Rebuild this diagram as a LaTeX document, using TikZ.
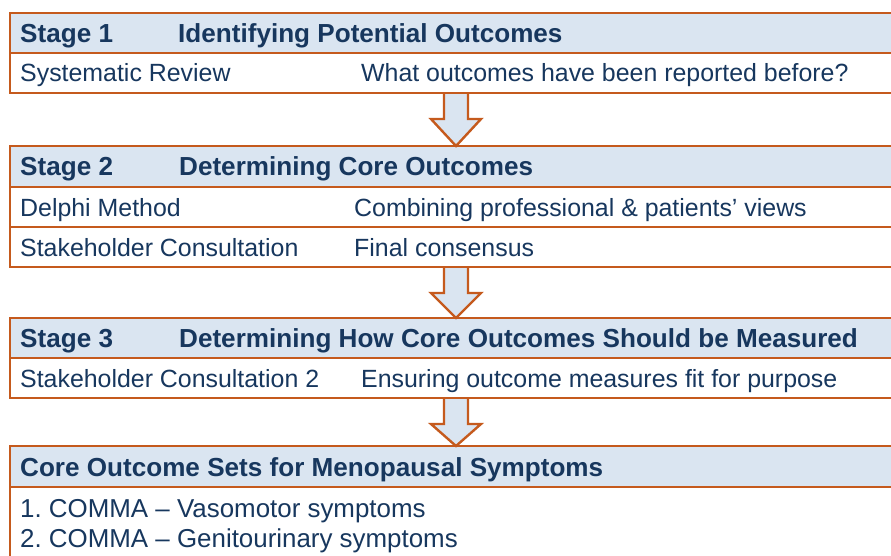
\documentclass[tikz,border=0pt]{standalone}
\usepackage{fontspec}
\setmainfont{Liberation Sans}
\usetikzlibrary{calc}
\definecolor{bord}{HTML}{C55A1D}
\definecolor{headfill}{HTML}{DAE5F1}
\definecolor{txt}{HTML}{17375E}
\frenchspacing
\begin{document}
\begin{tikzpicture}[x=1pt,y=1pt,
  cell/.style={draw=bord,line width=2.8pt,anchor=north west,minimum width=900pt,inner sep=0pt,outer sep=0pt},
  headcell/.style={cell,fill=headfill},
  rowcell/.style={cell,fill=white},
  lbl/.style={anchor=base west,inner sep=0pt,text=txt,font=\fontsize{24.9}{29}\selectfont},
  listlbl/.style={lbl,font=\fontsize{25.9}{30}\selectfont},
  hlbl/.style={lbl,font=\fontsize{26.1}{30}\selectfont\bfseries},
  blockarrow/.style={draw=bord,line width=2.4pt,fill=headfill,line join=miter}
]
\useasboundingbox (0,0) rectangle (891,-556);
\clip (0,0) rectangle (891,-556);
\fill[white] (0,0) rectangle (891,-556);
\coordinate (ax) at (456,0);

% box 1
\node[headcell,minimum height=40pt] (h1) at (10,-13) {};
\node[rowcell,minimum height=40pt] (r1) at (10,-53) {};
% box 2
\node[headcell,minimum height=41pt] (h2) at (10,-146) {};
\node[rowcell,minimum height=40pt] (r2a) at (10,-187) {};
\node[rowcell,minimum height=40pt] (r2b) at (10,-227) {};
% box 3
\node[headcell,minimum height=40pt] (h3) at (10,-318) {};
\node[rowcell,minimum height=40pt] (r3) at (10,-358) {};
% box 4
\node[headcell,minimum height=41pt] (h4) at (10,-446) {};
\node[rowcell,minimum height=120pt] (r4) at (10,-487) {};

% arrows
\foreach \s/\e/\n in {r1/h2/1, r2b/h3/2, r3/h4/3}{
  \coordinate (as\n) at (\s.south -| ax);
  \coordinate (ae\n) at (\e.north -| ax);
  \draw[blockarrow] ($(as\n)+(-12,0)$) -- ($(as\n)+(-12,-26)$) -- ($(as\n)+(-25,-26)$)
     -- (ae\n) -- ($(as\n)+(25,-26)$) -- ($(as\n)+(12,-26)$) -- ($(as\n)+(12,0)$);
}
% redraw borders over arrow ends
\draw[bord,line width=2.8pt] (r1.south west) -- (r1.south east);
\draw[bord,line width=2.8pt] (h2.north west) -- (h2.north east);
\draw[bord,line width=2.8pt] (r2b.south west) -- (r2b.south east);
\draw[bord,line width=2.8pt] (h3.north west) -- (h3.north east);
\draw[bord,line width=2.8pt] (r3.south west) -- (r3.south east);
\draw[bord,line width=2.8pt] (h4.north west) -- (h4.north east);

% texts
\node[hlbl] (t1a) at (20,-43) {Stage 1};
\node[hlbl] (t1b) at (178,-43) {Identifying Potential Outcomes};
\node[lbl] (t1c) at (20,-82) {Systematic Review};
\node[lbl] (t1d) at (361,-82) {What outcomes have been reported before?};

\node[hlbl] (t2a) at (20,-176) {Stage 2};
\node[hlbl] (t2b) at (179,-176) {Determining Core Outcomes};
\node[lbl] (t2c) at (20,-216) {Delphi Method};
\node[lbl] (t2d) at (354,-216) {Combining professional \& patients’ views};
\node[lbl] (t2e) at (20,-256) {Stakeholder Consultation};
\node[lbl] (t2f) at (354,-256) {Final consensus};

\node[hlbl] (t3a) at (20,-347) {Stage 3};
\node[hlbl] (t3b) at (179,-347) {Determining How Core Outcomes Should be Measured};
\node[lbl] (t3c) at (20,-387) {Stakeholder Consultation 2};
\node[lbl] (t3d) at (361,-387) {Ensuring outcome measures fit for purpose};

\node[hlbl] (t4a) at (20,-476) {Core Outcome Sets for Menopausal Symptoms};
\node[listlbl] (t4b) at (20,-517) {1. COMMA – Vasomotor symptoms};
\node[listlbl] (t4c) at (20,-547) {2. COMMA – Genitourinary symptoms};
\end{tikzpicture}
\end{document}
